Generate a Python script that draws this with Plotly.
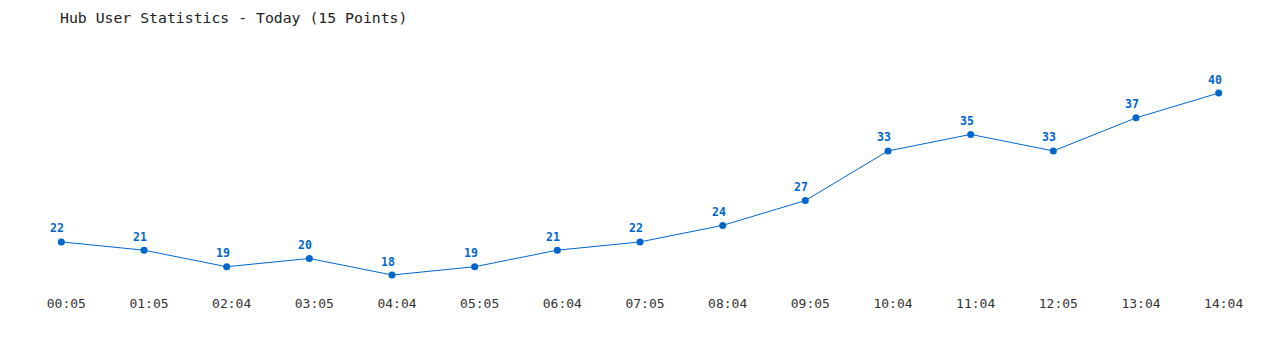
import plotly.graph_objects as go

times = ["00:05", "01:05", "02:04", "03:05", "04:04", "05:05", "06:04", "07:05",
         "08:04", "09:05", "10:04", "11:04", "12:05", "13:04", "14:04"]
users = [22, 21, 19, 20, 18, 19, 21, 22, 24, 27, 33, 35, 33, 37, 40]

blue = "#0066cc"
mono = "DejaVu Sans Mono, Liberation Mono, monospace"
xs = list(range(len(times)))

fig = go.Figure(go.Scatter(
    x=xs, y=users,
    mode="lines+markers",
    line=dict(color=blue, width=1),
    marker=dict(color=blue, size=7),
    hoverinfo="skip",
))

for x, v in zip(xs, users):
    fig.add_annotation(x=x, y=v, text=f"<b>{v}</b>", showarrow=False,
                       xshift=-4, yshift=13.5, yanchor="middle",
                       font=dict(family=mono, size=11.5, color=blue))

fig.update_layout(
    width=1280, height=350,
    margin=dict(l=20, r=20, t=50, b=60),
    paper_bgcolor="white", plot_bgcolor="white",
    showlegend=False,
    title=dict(text="Hub User Statistics - Today (15 Points)",
               x=60/1280, xanchor="left", xref="container",
               y=1-18/350, yanchor="middle", yref="container",
               font=dict(family=mono, size=14.8, color="#222")),
    xaxis=dict(range=[-0.5, len(times)-0.5], tickvals=xs,
               ticktext=times, showgrid=False, zeroline=False, showline=False,
               tickfont=dict(family=mono, size=13, color="#333"), ticks="",
               ticklabelshift=5, ticklabelstandoff=4),
    yaxis=dict(range=[18 - 15/8.27, 18 + 225/8.27], visible=False,
               showgrid=False, zeroline=False),
)

fig.write_html("out.html")
